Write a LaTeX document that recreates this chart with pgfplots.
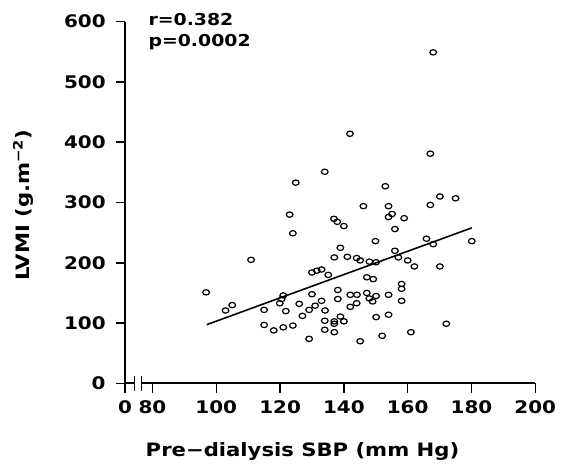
\documentclass[border=0pt]{standalone}
\usepackage{fontspec}
\setmainfont{DejaVu Sans}[FakeStretch=1.15]
\usepackage{pgfplots}
\pgfplotsset{compat=1.18}
\begin{document}
\begin{tikzpicture}
\begin{axis}[
  scale only axis, width=307.7pt, height=271.4pt,
  xmin=71.38, xmax=200, ymin=0, ymax=600,
  axis lines=left,
  axis line style={-, line width=1.5pt},
  y axis line style={line width=2.2pt},
  xtick={71.38,80,100,120,140,160,180,200},
  xticklabels={0,80,100,120,140,160,180,200},
  ytick={0,100,200,300,400,500,600},
  tick align=outside, major tick length=7pt,
  tick style={black, line width=1.1pt},
  ticklabel style={font=\fontsize{13}{15}\selectfont\bfseries},
  yticklabel style={xshift=-4pt},
  xticklabel style={yshift=-2.5pt},
  /pgf/number format/assume math mode=true,
  xlabel={Pre−dialysis SBP (mm Hg)},
  ylabel={LVMI (g.m\textsuperscript{−2})},
  xlabel style={at={([yshift=-54.5pt]axis description cs:0.4326,0)}, anchor=base, font=\fontsize{13.8}{16}\selectfont\bfseries},
  ylabel style={at={([xshift=-71.5pt]axis description cs:0,0.493)}, anchor=base, font=\fontsize{13.8}{16}\selectfont\bfseries},
  clip=false,
]
\addplot[only marks, mark=o, mark size=2.0pt, mark options={line width=0.9pt, xscale=1.25, black}] table {
x y
168.0 549
141.9 414
167.1 381
134.0 351
124.9 333
153.0 327
123.0 280
146.1 294
154.0 294
167.1 296
170.1 310
175.0 307
155.1 281
154.0 276
158.9 274
136.9 273
137.9 268
140.0 261
124.0 249
156.0 256
165.9 240
168.0 231
180.1 236
149.9 236
138.9 225
156.0 220
137.0 209
141.1 210
144.0 208
145.1 204
148.0 202
150.1 201
157.1 209
160.0 204
162.1 194
170.1 194
130.0 184
131.5 187
133.0 189
135.1 180
147.2 176
149.2 173
158.1 165
158.1 157
138.1 155
121.0 146
120.5 140
130.0 148
138.1 140
142.0 147
144.1 147
147.2 150
148.0 141
150.1 145
149.0 136
154.0 147
158.1 137
144.0 133
133.0 137
126.0 132
131.0 129
129.1 122
121.8 120
134.1 121
142.0 127
127.0 112
138.9 111
150.1 110
154.0 114
134.0 104
137.0 103
140.0 103
137.0 99
172.1 99
121.0 93
124.0 96
134.0 89
137.0 85
152.0 79
161.0 85
129.1 74
145.1 70
110.9 205
96.8 151
102.9 121
105.0 130
115.0 122
119.9 133
115.0 97
118.0 88
};
\addplot[black, line width=1.2pt] coordinates {(97,97.5) (180.1,258)};
\fill[white] ([yshift=-1.3pt]axis cs:74.3,0) rectangle ([yshift=1.3pt]axis cs:76.6,0);
\draw[line width=1.1pt] ([yshift=-5.6pt]axis cs:74.3,0) -- ([yshift=5.6pt]axis cs:74.3,0);
\draw[line width=1.1pt] ([yshift=-5.6pt]axis cs:76.6,0) -- ([yshift=5.6pt]axis cs:76.6,0);
\node[anchor=base west, inner sep=0pt, font=\fontsize{12.3}{15}\selectfont\bfseries] at (axis cs:78.68,593.4) {r=0.382};
\node[anchor=base west, inner sep=0pt, font=\fontsize{12.3}{15}\selectfont\bfseries] at (axis cs:78.68,558.5) {p=0.0002};
\end{axis}
\pgfresetboundingbox
\path ([xshift=-93.75pt,yshift=-61.9pt]current axis.south west) rectangle ([xshift=327pt,yshift=287.6pt]current axis.south west);
\end{tikzpicture}
\end{document}
